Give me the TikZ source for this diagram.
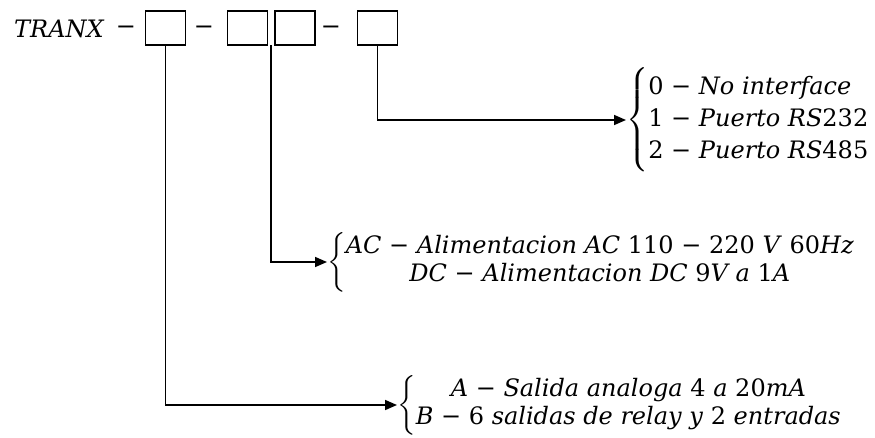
\documentclass[tikz,border=0pt]{standalone}
\usepackage{amsmath}
\usepackage{fontspec}
\newfontfamily\cmfont{DejaVu Serif}
\usetikzlibrary{arrows.meta}
\newcommand{\vi}[1]{\textit{#1}}
\begin{document}
\begin{tikzpicture}[x=1pt,y=-1pt,
  box/.style={draw,line width=1.6pt,minimum width=40pt,minimum height=34pt,inner sep=0pt},
  lbl/.style={inner sep=0pt,font=\fontsize{24}{30}\cmfont},
  conn/.style={line width=1.6pt,-{Triangle[length=12pt,width=10pt]}}]
\useasboundingbox (0,0) rectangle (875,437);
\node[lbl,anchor=base west] (tranx) at (14,37) {\vi{TRANX}};
\node[lbl] (d0) at (126,30) {−};
\node[box] (b1) at (165.5,28) {};
\node[lbl] (d1) at (204,30) {−};
\node[box] (b2) at (247.5,28) {};
\node[box] (b3) at (295,28) {};
\node[lbl] (d2) at (331,30) {−};
\node[box] (b4) at (377.5,28) {};
\coordinate (m23) at (271,45);
\node[lbl,anchor=west] (g1) at (626,120) {\renewcommand{\arraystretch}{1.08}$\left\{\text{\begin{tabular}{@{}l@{}}0 − \vi{No interface}\\ 1 − \vi{Puerto RS}232\\ 2 − \vi{Puerto RS}485\end{tabular}}\right.$};
\node[lbl,anchor=west] (g2) at (327,262) {\renewcommand{\arraystretch}{0.94}$\left\{\text{\begin{tabular}{@{}c@{}}\vi{AC} − \vi{Alimentacion AC} 110 − 220 \vi{V} 60\vi{Hz}\\ \vi{DC} − \vi{Alimentacion DC} 9\vi{V a} 1\vi{A}\end{tabular}}\right.$};
\node[lbl,anchor=west] (g3) at (397,405) {\renewcommand{\arraystretch}{0.94}$\left\{\text{\begin{tabular}{@{}c@{}}\vi{A} − \vi{Salida analoga} 4 \vi{a} 20\vi{mA}\\ \vi{B} − 6 \vi{salidas de relay y} 2 \vi{entradas}\end{tabular}}\right.$};
\draw[conn] (b4.south) |- (g1.west);
\draw[conn] (m23) |- (g2.west);
\draw[conn] (b1.south) |- (g3.west);
\end{tikzpicture}
\end{document}
